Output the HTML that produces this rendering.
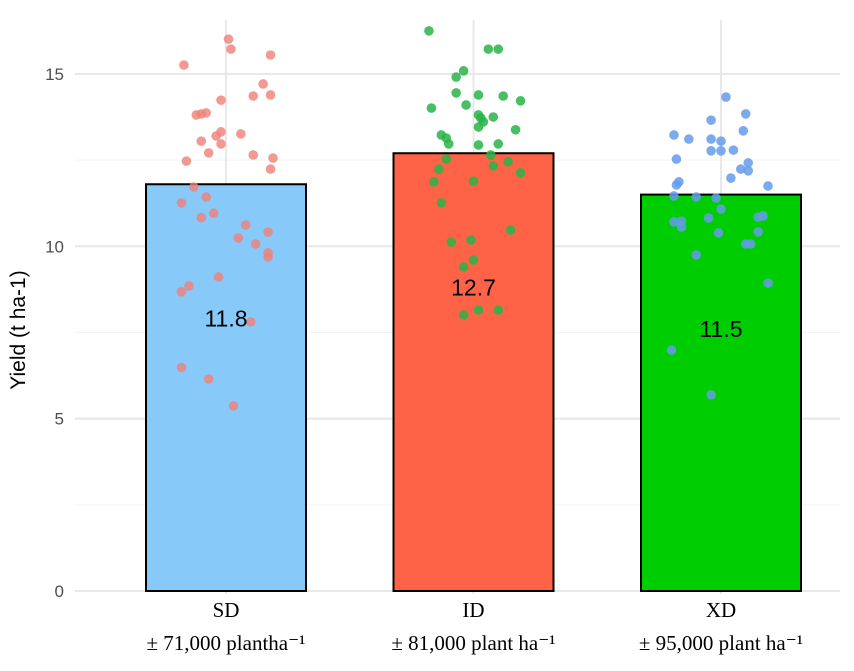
<!DOCTYPE html>
<html><head><meta charset="utf-8"><style>
body{margin:0;background:#fff;}
svg{display:block;font-family:"Liberation Sans",sans-serif;}
</style></head><body>
<svg id="chart" width="854" height="671" viewBox="0 0 854 671"></svg>
<script>
const categories=["SD","ID","XD"];
const subLabels=["± 71,000 plantha⁻¹","± 81,000 plant ha⁻¹","± 95,000 plant ha⁻¹"];
const means=[11.8,12.7,11.5];
const yTicks=[0,5,10,15];
const sdVals=[16.01,15.72,15.55,15.26,14.71,14.36,14.39,14.24,13.81,13.84,13.87,13.32,13.20,13.26,13.05,12.97,12.71,12.65,12.56,12.47,12.24,11.72,11.26,11.43,10.83,10.96,10.62,10.24,10.41,10.07,9.81,9.69,9.11,8.85,8.68,7.81,6.48,6.15,5.37];
const sdJit=[0.01,0.02,0.18,-0.17,0.15,0.11,0.18,-0.02,-0.12,-0.10,-0.08,-0.02,-0.04,0.06,-0.10,-0.02,-0.07,0.11,0.19,-0.16,0.18,-0.13,-0.18,-0.08,-0.10,-0.05,0.08,0.05,0.17,0.12,0.17,0.17,-0.03,-0.15,-0.18,0.10,-0.18,-0.07,0.03];
const idVals=[16.25,15.72,15.72,15.09,14.91,14.45,14.39,14.36,14.22,14.01,14.10,13.81,13.75,13.72,13.61,13.46,13.38,13.23,13.14,12.97,12.94,12.97,12.53,12.65,12.45,12.33,12.24,12.13,11.87,11.89,11.26,10.47,10.12,10.18,9.60,9.40,8.01,8.15,8.15];
const idJit=[-0.18,0.06,0.10,-0.04,-0.07,-0.07,0.02,0.12,0.19,-0.17,-0.03,0.02,0.08,0.03,0.04,0.02,0.17,-0.13,-0.11,-0.10,0.02,0.10,-0.11,0.07,0.14,0.08,-0.14,0.19,-0.16,0.00,-0.13,0.15,-0.09,-0.01,0.00,-0.04,-0.04,0.02,0.10];
const xdVals=[14.33,13.84,13.66,13.35,13.23,13.11,13.11,13.05,12.77,12.77,12.79,12.53,12.42,12.24,12.19,11.98,11.87,11.78,11.75,11.46,11.43,11.40,11.08,10.88,10.85,10.71,10.73,10.56,10.82,10.42,10.39,10.07,10.07,9.75,8.93,6.99,5.69];
const xdJit=[0.02,0.10,-0.04,0.09,-0.19,-0.13,-0.04,0.00,-0.04,0.00,0.05,-0.18,0.11,0.08,0.11,0.04,-0.17,-0.18,0.19,-0.19,-0.10,-0.02,0.00,0.17,0.15,-0.19,-0.16,-0.16,-0.05,0.15,-0.01,0.10,0.12,-0.10,0.19,-0.20,-0.04];

const svg=document.getElementById('chart');
const NS='http://www.w3.org/2000/svg';
const L=75,R=840,Y0=591,PER=34.47,BAND=247.5;
const y=v=>Y0-v*PER;
const x=(i,j)=>226+(i+(j||0))*BAND;
function mk(t,a,p){const e=document.createElementNS(NS,t);for(const k in a)e.setAttribute(k,a[k]);(p||svg).appendChild(e);return e;}

const grid=mk('g',{});


[2.5,7.5,12.5].forEach(v=>{mk('line',{x1:L,x2:R,y1:y(v),y2:y(v),stroke:'#f3f3f3','stroke-width':1},grid);});
yTicks.forEach(v=>{mk('line',{x1:L,x2:R,y1:y(v),y2:y(v),stroke:'#e8e8e8','stroke-width':2},grid);});
categories.forEach((c,i)=>{mk('line',{x1:x(i),x2:x(i),y1:20,y2:Y0+3,stroke:'#e8e8e8','stroke-width':2},grid);});

const barColors=['#87CAFA','#FF6347','#00CD00'];
means.forEach((m,i)=>{
  const b=mk('rect',{x:x(i)-80,y:y(m),width:160,height:Y0-y(m),fill:barColors[i],stroke:'#000','stroke-width':2});
  
  
});

const ptSets=[[sdVals,sdJit,'rgba(240,128,120,0.8)'],[idVals,idJit,'rgba(40,180,70,0.85)'],[xdVals,xdJit,'rgba(100,155,235,0.85)']];
ptSets.forEach((s,i)=>{
  const g=mk('g',{});
  
  
  s[0].forEach((v,k)=>{
    const c=mk('circle',{cx:x(i,s[1][k]),cy:y(v),r:4.8,fill:s[2]},g);
    
    
  });
});

means.forEach((m,i)=>{
  const t=mk('text',{x:x(i),y:y(m-3.9)+8,'text-anchor':'middle','font-size':23,fill:'#000'});
  t.textContent=m.toFixed(1);
  
  
});

yTicks.forEach(v=>{
  const t=mk('text',{x:64,y:y(v)+6,'text-anchor':'end','font-size':17,fill:'#4d4d4d'});
  t.textContent=v;
  
  
});

categories.forEach((c,i)=>{
  const t=mk('text',{x:x(i),y:617,'text-anchor':'middle','font-size':21,fill:'#000','font-family':'Liberation Serif, serif'});
  t.textContent=c;
  
  
  const s=mk('text',{x:x(i),y:650,'text-anchor':'middle','font-size':21,fill:'#000','font-family':'Liberation Serif, serif'});
  s.textContent=subLabels[i];
  
  
});

const yt=mk('text',{x:0,y:0,transform:'translate(25,330) rotate(-90)','text-anchor':'middle','font-size':21,fill:'#000'});
yt.textContent='Yield (t ha-1)';


</script>
</body></html>
